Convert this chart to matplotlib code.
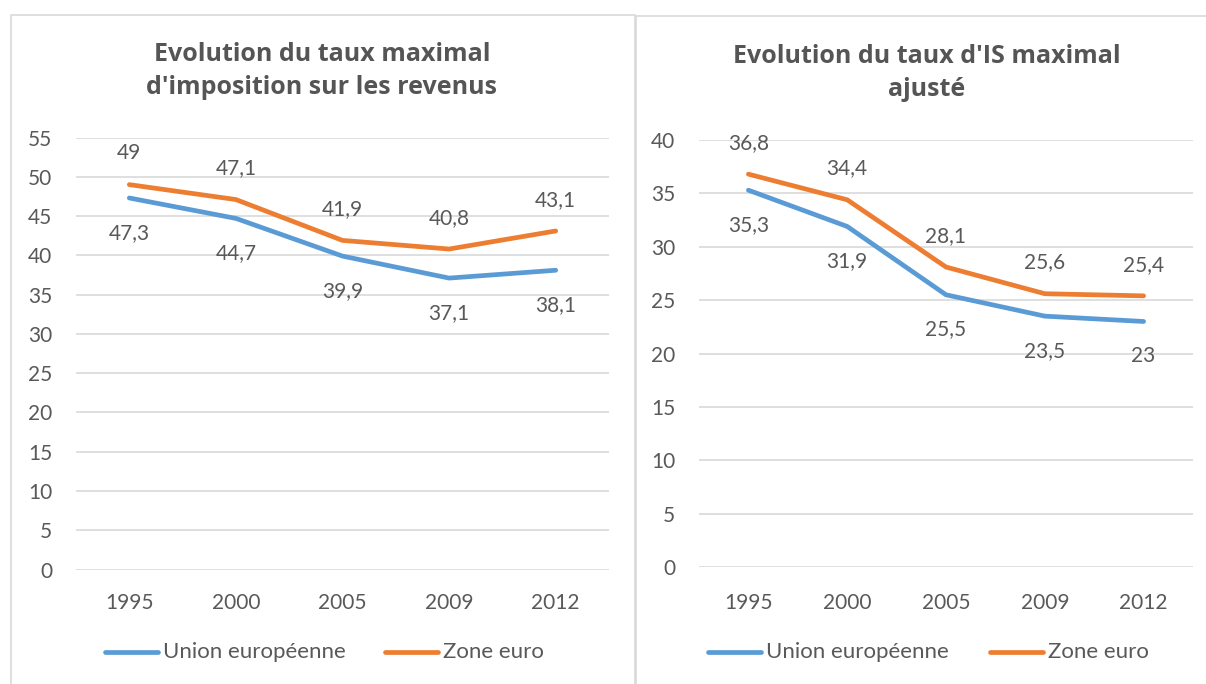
import matplotlib
matplotlib.use("Agg")
import matplotlib.pyplot as plt
from matplotlib.patches import Rectangle
from matplotlib.lines import Line2D

plt.rcParams['font.family'] = ['Lato', 'DejaVu Sans']

years = ["1995", "2000", "2005", "2009", "2012"]
ir_ue = [47.3, 44.7, 39.9, 37.1, 38.1]
ir_ze = [49, 47.1, 41.9, 40.8, 43.1]
is_ue = [35.3, 31.9, 25.5, 23.5, 23]
is_ze = [36.8, 34.4, 28.1, 25.6, 25.4]
series_names = ["Union européenne", "Zone euro"]
titles = ["Evolution du taux maximal\nd'imposition sur les revenus",
          "Evolution du taux d'IS maximal\najusté"]

BLUE = "#5B9BD5"
ORANGE = "#ED7D31"
TXT = "#595959"
GRID = "#D9D9D9"

W, H = 1206, 684
fig = plt.figure(figsize=(W / 100, H / 100), dpi=100)
fig.patch.set_facecolor("white")


def px(x0, y0, x1, y1):
    # pixel box (top-left origin) -> figure fraction
    return [x0 / W, 1 - y1 / H, (x1 - x0) / W, (y1 - y0) / H]


def fmt(v):
    return ("%g" % v).replace(".", ",")


# panel borders
fig.add_artist(Rectangle((11 / W, -0.05), (635 - 11) / W, 1.05 - 15 / H,
                         transform=fig.transFigure, fill=False,
                         edgecolor=GRID, lw=1.2))
fig.add_artist(Rectangle((636 / W, -0.05), (1240 - 636) / W, 1.05 - 16 / H,
                         transform=fig.transFigure, fill=False,
                         edgecolor=GRID, lw=1.2))

panels = [
    dict(box=(76, 137.5, 609, 569.5), ymax=55, ue=ir_ue, ze=ir_ze,
         title_xy=(322, 71), leg=(105, 385)),
    dict(box=(699, 140, 1193, 567), ymax=40, ue=is_ue, ze=is_ze,
         title_xy=(927, 73), leg=(708, 990)),
]

FS = 15

for i, p in enumerate(panels):
    ax = fig.add_axes(px(*p["box"]))
    x = list(range(len(years)))
    ax.set_xlim(-0.5, len(years) - 0.5)
    ax.set_ylim(0, p["ymax"])
    ax.set_yticks(range(0, p["ymax"] + 1, 5))
    ax.set_xticks(x)
    ax.set_xticklabels(years)
    for s in ax.spines.values():
        s.set_visible(False)
    ax.grid(axis="y", color=GRID, lw=1.2)
    ax.set_axisbelow(True)
    ax.tick_params(length=0, labelsize=FS, labelcolor=TXT)
    ax.tick_params(axis="y", pad=17)
    ax.tick_params(axis="x", pad=17 if i == 0 else 19)
    ax.plot(x, p["ue"], color=BLUE, lw=3.4, solid_capstyle="round",
            solid_joinstyle="round", clip_on=False)
    ax.plot(x, p["ze"], color=ORANGE, lw=3.4, solid_capstyle="round",
            solid_joinstyle="round", clip_on=False)
    for xi, v in zip(x, p["ue"]):
        ax.annotate(fmt(v), (xi, v), xytext=(0, -25), textcoords="offset points",
                    ha="center", va="center", fontsize=FS, color=TXT)
    for xi, v in zip(x, p["ze"]):
        ax.annotate(fmt(v), (xi, v), xytext=(0, 22.5), textcoords="offset points",
                    ha="center", va="center", fontsize=FS, color=TXT)

    tx, ty = p["title_xy"]
    fig.text(tx / W, 1 - ty / H, titles[i], ha="center", va="center",
             fontsize=18, fontweight="bold", color="#555555", linespacing=1.45,
             family=["Open Sans", "DejaVu Sans"])

    # legend
    ly = 1 - 652 / H
    for (lx, col, name) in [(p["leg"][0], BLUE, series_names[0]),
                            (p["leg"][1], ORANGE, series_names[1])]:
        fig.add_artist(Line2D([lx / W, (lx + 53) / W], [ly, ly],
                              transform=fig.transFigure, color=col, lw=3.4,
                              solid_capstyle="round"))
        fig.text((lx + 58) / W, ly, name, ha="left", va="center",
                 fontsize=16, color=TXT)

fig.savefig("out.png", dpi=100, facecolor="white")
